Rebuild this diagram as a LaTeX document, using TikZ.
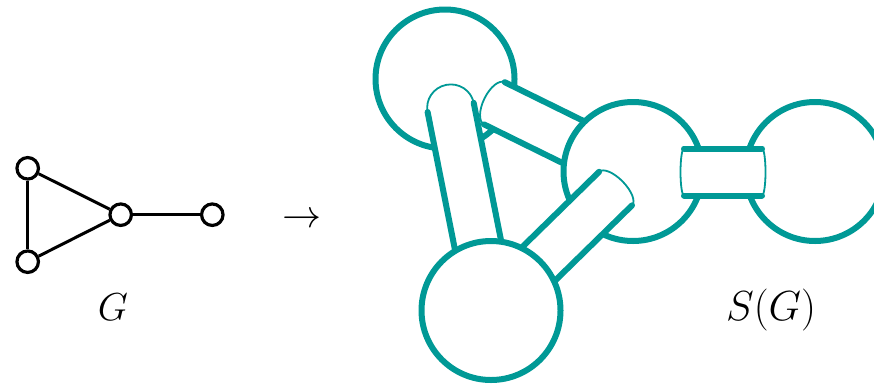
\RequirePackage{fix-cm}
\documentclass[tikz,border=0pt]{standalone}
\usetikzlibrary{calc}
\definecolor{tealc}{RGB}{0,153,150}
\tikzset{
  vtx/.style={circle,draw=black,fill=white,line width=3.2pt,minimum size=21.5pt,inner sep=0pt},
  gedge/.style={line width=3pt,black},
  sphere/.style={draw=tealc,fill=white,line width=6pt},
  tubeside/.style={draw=tealc,line width=6pt,line cap=round},
  tubecap/.style={draw=tealc,line width=1.8pt},
  lbl/.style={font=\fontsize{39}{47}\selectfont,anchor=base,inner sep=0pt}
}
\newcommand\mytube[4]{%
  \begin{scope}[shift={#1},rotate=#2]
    \fill[white] (#3,23.5) -- (0,23.5) arc[start angle=90,end angle=270,x radius=#4,y radius=23.5] -- (#3,-23.5) -- cycle;
    \draw[tubecap] (0,23.5) arc[start angle=90,end angle=270,x radius=#4,y radius=23.5];
    \draw[tubeside] (0,23.5) -- (#3,23.5) (0,-23.5) -- (#3,-23.5);
  \end{scope}}
\begin{document}
\begin{tikzpicture}[x=1pt,y=1pt]
  \path[use as bounding box,clip] (0,0) rectangle (874,-383);
  % graph G
  \node[vtx] (v1) at (27.7,-168.3) {};
  \node[vtx] (v2) at (27.7,-261.7) {};
  \node[vtx] (v3) at (120.7,-214.7) {};
  \node[vtx] (v4) at (212.3,-214.7) {};
  \draw[gedge] (v1) -- (v2);
  \draw[gedge] (v1) -- (v3);
  \draw[gedge] (v2) -- (v3);
  \draw[gedge] (v3) -- (v4);
  \node[lbl] (lg) at (113,-320) {$G$};
  \node[lbl] (arr) at (301.7,-227) {$\to$};
  \node[lbl,font=\fontsize{42}{50}\selectfont] (lsg) at (771,-320) {$S(G)$};
  % S(G)
  \coordinate (c1) at (445,-79);
  \coordinate (c2) at (633,-171.5);
  \coordinate (c3) at (815,-171.5);
  \coordinate (c4) at (491,-310.5);
  \draw[sphere] (c1) circle[radius=69.5];
  \mytube{($(c1)!29pt!(c4)$)}{-78.76}{207}{23}
  \mytube{($(c1)!55pt!(c2)$)}{-26.2}{154.5}{11}
  \draw[sphere] (c2) circle[radius=69.5];
  \mytube{($(c2)!24.4pt!(c4)$)}{-135.61}{174.3}{10}
  \draw[sphere] (c4) circle[radius=69.5];
  \draw[sphere] (c3) circle[radius=69.5];
  % tube between c2 and c3
  \fill[white] (684,-148.5) -- (762,-148.5) arc[start angle=90,end angle=-90,x radius=3.5,y radius=23.5]
     -- (684,-195.5) arc[start angle=270,end angle=90,x radius=3.5,y radius=23.5] -- cycle;
  \draw[tubecap] (762,-148.5) arc[start angle=90,end angle=-90,x radius=3.5,y radius=23.5];
  \draw[tubecap] (684,-195.5) arc[start angle=270,end angle=90,x radius=3.5,y radius=23.5];
  \draw[tubeside] (684,-148.5) -- (762,-148.5) (684,-195.5) -- (762,-195.5);
\end{tikzpicture}
\end{document}
